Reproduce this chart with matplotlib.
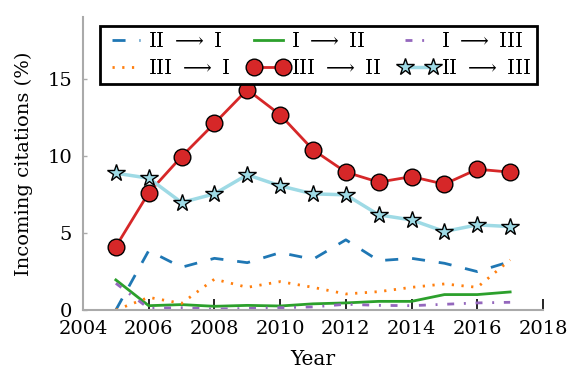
import matplotlib
matplotlib.use("Agg")
import matplotlib.pyplot as plt

years = [2005, 2006, 2007, 2008, 2009, 2010, 2011, 2012, 2013, 2014, 2015, 2016, 2017]
ii_to_i = [0.0, 3.85, 2.77, 3.35, 3.07, 3.72, 3.29, 4.55, 3.2, 3.35, 3.03, 2.49, 3.14]
i_to_ii = [1.95, 0.28, 0.35, 0.24, 0.3, 0.26, 0.4, 0.46, 0.56, 0.56, 1.0, 1.0, 1.17]
i_to_iii = [1.73, 0.11, 0.15, 0.06, 0.1, 0.15, 0.2, 0.37, 0.3, 0.28, 0.37, 0.46, 0.5]
iii_to_i = [0.0, 0.82, 0.43, 2.0, 1.47, 1.84, 1.47, 1.04, 1.19, 1.47, 1.69, 1.47, 3.25]
iii_to_ii = [4.11, 7.60, 9.95, 12.1, 14.29, 12.66, 10.39, 8.94, 8.29, 8.65, 8.16, 9.13, 8.94]
ii_to_iii = [8.87, 8.55, 6.97, 7.53, 8.77, 8.05, 7.53, 7.47, 6.17, 5.84, 5.09, 5.52, 5.41]

labels = [r"II $\longrightarrow$ I", r"I $\longrightarrow$ II", r"I $\longrightarrow$ III",
          r"III $\longrightarrow$ I", r"III $\longrightarrow$ II", r"II $\longrightarrow$ III"]
xticks = [2004, 2006, 2008, 2010, 2012, 2014, 2016, 2018]
yticks = [0, 5, 10, 15]

plt.rcParams['font.family'] = 'DejaVu Serif'
plt.rcParams['mathtext.fontset'] = 'dejavuserif'

fig = plt.figure(figsize=(5.86, 3.88), dpi=100)
ax = fig.add_axes([83/586, 1 - 310/388, 460/586, 293/388])

h = []
h += ax.plot(years, ii_to_i, color='#1f77b4', ls=(0, (4.7, 5)), lw=2, label=labels[0])
h += ax.plot(years, i_to_ii, color='#2ca02c', ls='-', lw=2, label=labels[1])
h += ax.plot(years, i_to_iii, color='#9467bd', ls=(0, (2.5, 3.5, 0.7, 3.5)), lw=2, label=labels[2])
h += ax.plot(years, iii_to_i, color='#ff7f0e', ls=(0, (0.8, 2.7)), lw=2, label=labels[3])
h += ax.plot(years, iii_to_ii, color='#d62728', ls='-', lw=2, marker='o', ms=12,
             mfc='#d62728', mec='black', mew=1, label=labels[4])
h += ax.plot(years, ii_to_iii, color='#9edae5', ls='-', lw=2.5, marker='*', ms=13,
             mfc='#9edae5', mec='black', mew=1, label=labels[5])

ax.set_xlim(2004, 2018)
ax.set_ylim(0, 19)
ax.set_xticks(xticks)
ax.set_yticks(yticks)
ax.tick_params(axis='x', direction='in', length=8, width=1.2, labelsize=14, colors='black', pad=7)
ax.tick_params(axis='y', direction='in', length=3, width=1, color='#aaaaaa', labelsize=14, pad=8)
for s in ['top', 'right']:
    ax.spines[s].set_visible(False)
for s in ['left', 'bottom']:
    ax.spines[s].set_color('#aaaaaa')
    ax.spines[s].set_linewidth(1.5)

ax.set_xlabel('Year', fontsize=14.5, labelpad=9)
ax.set_ylabel('Incoming citations (%)', fontsize=14, labelpad=10)

order = [0, 3, 1, 4, 2, 5]
leg = ax.legend([h[i] for i in order], [labels[i] for i in order],
                ncol=3, loc='upper center', bbox_to_anchor=(0.512, 1.0), fontsize=14.5,
                fancybox=False, framealpha=1, edgecolor='black', numpoints=2,
                handlelength=2.0, handletextpad=0.1, columnspacing=0.9,
                borderpad=0.3, labelspacing=0.4, borderaxespad=0.45)
leg.get_frame().set_linewidth(2)

fig.savefig('out.png', dpi=100)
